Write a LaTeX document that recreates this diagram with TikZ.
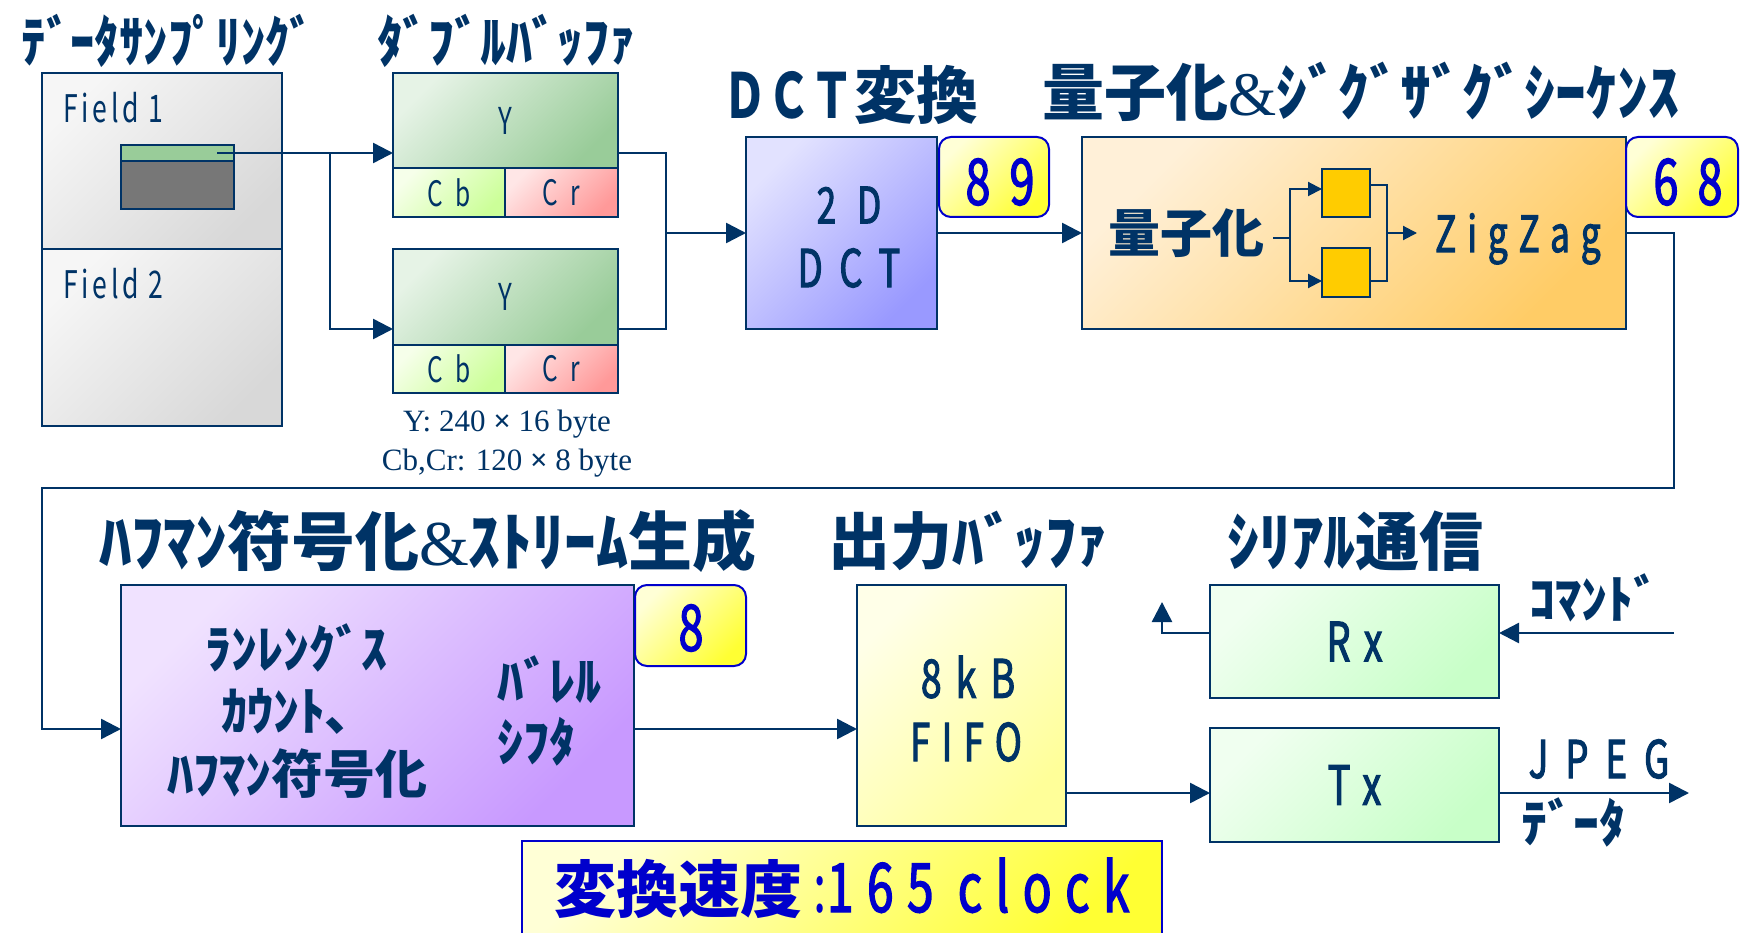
\documentclass[tikz,border=0pt]{standalone}
\usepackage{fontspec}
\usepackage{graphicx}
\usetikzlibrary{arrows.meta}
\newfontfamily\jp{Noto Sans CJK JP}
\newfontfamily\cf[FakeStretch=0.7]{Noto Sans CJK JP}
\newfontfamily\cfm[FakeStretch=0.7, FakeBold=2]{Noto Sans CJK JP}
\newfontfamily\ser{Liberation Serif}
\definecolor{navy}{HTML}{003366}
\definecolor{nblue}{HTML}{0000CC}
\definecolor{fieldL}{HTML}{F6F6F6}\definecolor{fieldD}{HTML}{D8D8D8}
\definecolor{yL}{HTML}{E6F3E6}\definecolor{yD}{HTML}{99CC99}
\definecolor{cbL}{HTML}{F6FFEA}\definecolor{cbD}{HTML}{CCFF99}
\definecolor{crL}{HTML}{FFE6E6}\definecolor{crD}{HTML}{FF9999}
\definecolor{dctL}{HTML}{E2E2FF}\definecolor{dctD}{HTML}{9999FF}
\definecolor{numL}{HTML}{FFFFD6}\definecolor{numD}{HTML}{FFFF33}
\definecolor{qL}{HTML}{FFF0D8}\definecolor{qD}{HTML}{FFCC66}
\definecolor{sqC}{HTML}{FFCC00}
\definecolor{hL}{HTML}{F0E2FF}\definecolor{hD}{HTML}{C899FF}
\definecolor{fifoL}{HTML}{FFFFE8}\definecolor{fifoD}{HTML}{FFFF99}
\definecolor{rxL}{HTML}{F0FFF0}\definecolor{rxD}{HTML}{C8FFC8}
\definecolor{stripC}{HTML}{99CC99}\definecolor{bodyC}{HTML}{777777}
\newcommand\fs[1]{\fontsize{#1}{#1}\selectfont}
\newcommand\ls[1]{\addfontfeature{LetterSpace=#1}}
\newcommand\amp{{\ser\mdseries\&}}
\tikzset{
  blk/.style={draw=navy, line width=2.5pt, inner sep=0pt, outer sep=0pt},
  grad/.style 2 args={top color=#1, bottom color=#2, shading angle=45},
  numbox/.style={blk, draw=nblue, line width=2pt, rounded corners=12pt, grad={numL}{numD}},
  ttl/.style={inner sep=0pt, font=\jp\bfseries\fs{62}, text=navy},
  jtx/.style={inner sep=0pt, font=\jp\bfseries\fs{52}, text=navy},
  ln/.style={draw=navy, line width=2.5pt},
  arr/.style={draw=navy, line width=2.5pt, -{Triangle[length=20pt,width=20pt]}},
  ln2/.style={draw=navy, line width=2pt},
  sarr/.style={draw=navy, line width=2pt, -{Triangle[length=14pt,width=14pt]}},
}
\begin{document}
\begin{tikzpicture}[x=1pt,y=-1pt, every node/.style={text=navy}]
\useasboundingbox (0,0) rectangle (1742,933);
\clip (0,0) rectangle (1742,933);

% ---- titles
\node[ttl, font=\jp\bfseries\fs{56}] (tSamp) at (168,41) {\scalebox{0.87}[1]{ﾃﾞｰﾀｻﾝﾌﾟﾘﾝｸﾞ}};
\node[ttl, font=\jp\bfseries\fs{56}] (tDbl) at (506,41) {\scalebox{0.92}[1]{ﾀﾞﾌﾞﾙﾊﾞｯﾌｧ}};
\node[ttl] (tDct) at (851,95) {\scalebox{0.7}[1]{ＤＣＴ}変換};
\node[ttl] (tQ) at (1361,92) {量子化\amp ｼﾞｸﾞｻﾞｸﾞｼｰｹﾝｽ};
\node[ttl, font=\jp\bfseries\fs{64}] (tH) at (428,541) {ﾊﾌﾏﾝ符号化\amp ｽﾄﾘｰﾑ生成};
\node[ttl] (tO) at (968,541) {出力ﾊﾞｯﾌｧ};
\node[ttl, font=\jp\bfseries\fs{64}] (tS) at (1355,541) {ｼﾘｱﾙ通信};

% ---- field boxes
\node[blk, grad={fieldL}{fieldD}, minimum width=240, minimum height=176] (f1) at (162,161) {};
\node[blk, grad={fieldL}{fieldD}, minimum width=240, minimum height=177] (f2) at (162,337.5) {};
\node[anchor=west, inner sep=0pt, font=\cf\fs{38}\ls{10}] (lf1) at (63,108) {Field 1};
\node[anchor=west, inner sep=0pt, font=\cf\fs{38}\ls{10}] (lf2) at (63,284) {Field 2};
\node[blk, fill=bodyC, minimum width=113, minimum height=48] (body) at (177.5,185) {};
\node[blk, fill=stripC, minimum width=113, minimum height=16] (strip) at (177.5,153) {};

% ---- double buffer
\node[blk, grad={yL}{yD}, minimum width=225, minimum height=95, font=\cf\fs{37}] (Y1) at (505.5,120.5) {Y};
\node[blk, grad={cbL}{cbD}, minimum width=112, minimum height=49, font=\cf\fs{35}\ls{35}] (Cb1) at (449,192.5) {Cb};
\node[blk, grad={crL}{crD}, minimum width=113, minimum height=49, font=\cf\fs{35}\ls{35}] (Cr1) at (561.5,192.5) {Cr};
\node[blk, grad={yL}{yD}, minimum width=225, minimum height=96, font=\cf\fs{37}] (Y2) at (505.5,297) {Y};
\node[blk, grad={cbL}{cbD}, minimum width=112, minimum height=48, font=\cf\fs{35}\ls{35}] (Cb2) at (449,369) {Cb};
\node[blk, grad={crL}{crD}, minimum width=113, minimum height=48, font=\cf\fs{35}\ls{35}] (Cr2) at (561.5,369) {Cr};
\node[inner sep=0pt, font=\ser\fs{31}, text=navy] (cap1) at (507,424) {Y: 240 {\bfseries ×} 16 byte};
\node[inner sep=0pt, font=\ser\fs{31}, text=navy] (cap2) at (507,463) {Cb,Cr: 120 {\bfseries ×} 8 byte};

% ---- DCT
\node[blk, grad={dctL}{dctD}, minimum width=191, minimum height=192] (dct) at (841.5,233) {};
\node[inner sep=0pt, font=\cfm\fs{50}\ls{42}] (t2d) at (849,205) {2D};
\node[inner sep=0pt, font=\cfm\fs{52}\ls{32}] (tdct) at (849,268) {DCT};
\node[numbox, minimum width=110, minimum height=80] (n89) at (994,177) {};
\node[inner sep=0pt, font=\cfm\fs{64}\ls{30}, text=nblue] (t89) at (1000,182) {89};

% ---- quant / zigzag
\node[blk, grad={qL}{qD}, minimum width=544, minimum height=192] (quant) at (1354,233) {};
\node[numbox, minimum width=112, minimum height=80] (n68) at (1682,177) {};
\node[inner sep=0pt, font=\cfm\fs{64}\ls{30}, text=nblue] (t68) at (1688,182) {68};
\node[jtx] (tq) at (1186,233) {量子化};
\node[blk, line width=2pt, fill=sqC, minimum width=48, minimum height=48] (sq1) at (1346,193) {};
\node[blk, line width=2pt, fill=sqC, minimum width=48, minimum height=49] (sq2) at (1346,272.5) {};
\node[anchor=base west, inner sep=0pt, font=\cfm\fs{50}\ls{22}] (tzz) at (1435,252) {ZigZag};

% ---- huffman
\node[blk, grad={hL}{hD}, minimum width=513, minimum height=241] (huff) at (377.5,705.5) {};
\node[jtx] (h1) at (296,648) {ﾗﾝﾚﾝｸﾞｽ};
\node[jtx] (h2) at (286,711) {ｶｳﾝﾄ､};
\node[jtx] (h3) at (297,774) {ﾊﾌﾏﾝ符号化};
\node[jtx, anchor=west] (h4) at (497,680) {ﾊﾞﾚﾙ};
\node[jtx, anchor=west] (h5) at (497,742) {ｼﾌﾀ};
\node[numbox, minimum width=111, minimum height=81] (n8) at (690.5,625.5) {};
\node[inner sep=0pt, font=\cfm\fs{64}, text=nblue] (t8) at (691,628) {8};

% ---- fifo
\node[blk, grad={fifoL}{fifoD}, minimum width=209, minimum height=241] (fifo) at (961.5,705.5) {};
\node[inner sep=0pt, font=\cfm\fs{53}\ls{27}] (t8kb) at (968,677) {8kB};
\node[inner sep=0pt, font=\cfm\fs{52}\ls{22}] (tfifo) at (966,742) {FIFO};

% ---- serial
\node[blk, grad={rxL}{rxD}, minimum width=289, minimum height=113, font=\cfm\fs{54}\ls{25}] (rx) at (1354.5,641.5) {Rx};
\node[blk, grad={rxL}{rxD}, minimum width=289, minimum height=114, font=\cfm\fs{54}\ls{25}] (tx) at (1354.5,785) {Tx};
\node[jtx] (tcmd) at (1594,598) {ｺﾏﾝﾄﾞ};
\node[inner sep=0pt, font=\cfm\fs{52}\ls{33}] (tjpeg) at (1599,759) {JPEG};
\node[jtx] (tdata) at (1573,822) {ﾃﾞｰﾀ};

% ---- speed
\node[blk, draw=nblue, line width=2pt, grad={numL}{numD}, minimum width=640, minimum height=104] (speed) at (842,893) {};
\node[inner sep=0pt, text=nblue] (tspeed) at (842,888) {{\jp\bfseries\fs{62}変換速度}{\cf\fs{68}\ls{21}\,:}{\cfm\fs{68}\ls{20}165 clock}};

% ---- connectors
\coordinate (src) at (217,153);
\coordinate (br) at (330,153);
\coordinate (j2) at (330,329);
\draw[arr] (src) -- (Y1.west |- src);
\draw[arr] (br) -- (j2) -- (Y2.west |- j2);
\coordinate (m1) at (666,153);
\coordinate (m2) at (666,329);
\coordinate (m) at (666,233);
\draw[ln] (Y1.east |- m1) -- (m1) -- (m2) -- (Y2.east |- m2);
\draw[arr] (m) -- (dct);
\draw[arr] (dct) -- (quant);

\coordinate (q0) at (1273,238);
\coordinate (q1) at (1290,238);
\coordinate (q2) at (1290,189);
\coordinate (q3) at (1290,281);
\draw[ln2] (q0) -- (q1);
\draw[sarr] (q1) -- (q2) -- (sq1.west |- q2);
\draw[sarr] (q1) -- (q3) -- (sq2.west |- q3);
\coordinate (r1) at (1387,185);
\coordinate (r2) at (1387,281);
\coordinate (r3) at (1387,233);
\coordinate (zz) at (1417,233);
\draw[ln2] (sq1.east |- r1) -- (r1) -- (r2) -- (sq2.east |- r2);
\draw[sarr] (r3) -- (zz);

\coordinate (l1) at (1674,233);
\coordinate (l2) at (1674,488);
\coordinate (l3) at (42,488);
\coordinate (l4) at (42,729);
\draw[arr] (quant.east) -- (l1) -- (l2) -- (l3) -- (l4) -- (huff.west |- l4);
\draw[arr] (huff.east |- l4) -- (fifo.west |- l4);
\coordinate (t) at (1100,793);
\draw[arr] (fifo.east |- t) -- (tx.west |- t);
\coordinate (out) at (1689,793);
\draw[arr] (tx.east |- out) -- (out);
\coordinate (cmd) at (1674,633);
\draw[arr] (cmd) -- (rx.east |- cmd);
\coordinate (ru1) at (1162,633);
\coordinate (ru2) at (1162,602);
\draw[arr] (rx.west |- ru1) -- (ru1) -- (ru2);
\end{tikzpicture}
\end{document}
